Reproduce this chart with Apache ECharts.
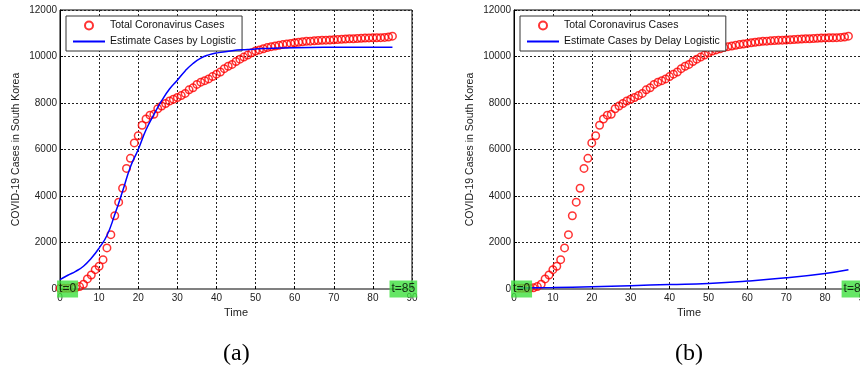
<!DOCTYPE html>
<html>
<head>
<meta charset="utf-8">
<script src="https://cdn.jsdelivr.net/npm/echarts@6/dist/echarts.min.js"></script>
<style>
  html, body { margin: 0; padding: 0; background: #fff; }
  #chart { width: 860px; height: 370px; }
</style>
</head>
<body>
<div id="chart"></div>
<script>
// 累计确诊病例（左图 t=0..85，右图整体右移 1）
const totalCases = [
    28, 29, 30, 31, 51, 104, 204, 433, 602, 833,
    977, 1261, 1766, 2337, 3150, 3736, 4335, 5186, 5621, 6284,
    6593, 7041, 7313, 7478, 7513, 7755, 7869, 7979, 8086, 8162,
    8236, 8320, 8413, 8565, 8652, 8799, 8897, 8961, 9037, 9137,
    9241, 9332, 9478, 9583, 9661, 9786, 9887, 9976, 10062, 10156,
    10237, 10284, 10331, 10384, 10423, 10450, 10480, 10512, 10537, 10564,
    10591, 10613, 10635, 10653, 10661, 10674, 10683, 10694, 10702, 10708,
    10718, 10728, 10738, 10752, 10761, 10765, 10774, 10780, 10793, 10801,
    10804, 10806, 10810, 10822, 10840, 10874
];
const daysA = totalCases.map((_, i) => i);
const daysB = totalCases.map((_, i) => i + 1);

// Logistic 拟合曲线
const logisticT = [0, 2, 4, 6, 8, 10, 12, 14, 16, 18, 20, 22, 24, 26, 28, 30, 32, 34, 36, 38, 40, 44, 48, 52, 60, 70, 85];
const logisticV = [400, 590, 760, 980, 1320, 1760, 2300, 3200, 4200, 5250, 6000, 6850, 7500, 8100, 8600, 8980, 9380, 9700, 9930, 10070, 10150, 10250, 10300, 10340, 10380, 10395, 10400];

// Delay Logistic 拟合曲线
const delayT = [1, 10, 20, 30, 40, 50, 60, 70, 80, 86];
const delayV = [40, 60, 100, 145, 190, 240, 340, 480, 670, 830];

// 绿色标注
const markerT = [0, 85];
const markerText = ['t=0', 't=85'];

const nameCases = 'Total Coronavirus Cases';
const nameLogistic = 'Estimate Cases by Logistic';
const nameDelay = 'Estimate Cases by Delay Logistic';

const FONT = 'Liberation Sans';
const chart = echarts.init(document.getElementById('chart'));

function xAxisOf(i) {
    return {
        gridIndex: i, type: 'value', min: 0, max: 90, interval: 10,
        name: 'Time', nameLocation: 'middle', nameGap: 18,
        nameTextStyle: { fontFamily: FONT, fontSize: 11, color: '#222' },
        axisLine: { show: true, onZero: false, lineStyle: { color: '#808080', width: 2 } },
        axisTick: { show: true, inside: true, length: 3, lineStyle: { color: '#000' } },
        axisLabel: { fontFamily: FONT, fontSize: 10, color: '#222', margin: 4 },
        splitLine: { show: true, lineStyle: { color: '#222', type: [2, 2], width: 1 } }
    };
}
function yAxisOf(i) {
    return {
        gridIndex: i, type: 'value', min: 0, max: 12000, interval: 2000,
        name: 'COVID-19 Cases in South Korea', nameLocation: 'middle', nameGap: 38,
        nameTextStyle: { fontFamily: FONT, fontSize: 10.5, color: '#222' },
        axisLine: { show: true, lineStyle: { color: '#000', width: 1 } },
        axisTick: { show: true, inside: true, length: 3, lineStyle: { color: '#000' } },
        axisLabel: { fontFamily: FONT, fontSize: 10, color: '#222', margin: 3, formatter: v => String(v) },
        splitLine: { show: true, lineStyle: { color: '#222', type: [2, 2], width: 1 } }
    };
}
function legendOf(left, lineName) {
    return {
        left: left, top: 16, orient: 'vertical',
        data: [nameCases, { name: lineName, itemStyle: { opacity: 0 } }],
        itemWidth: 32, itemHeight: 8, itemGap: 5,
        padding: [4, 6, 4, 6],
        backgroundColor: '#fff', borderColor: '#333', borderWidth: 1, borderRadius: 0,
        textStyle: { fontFamily: FONT, fontSize: 10.5, color: '#111' },
        selectedMode: false
    };
}
function casesSeries(i, days) {
    return {
        name: nameCases, type: 'scatter', xAxisIndex: i, yAxisIndex: i,
        data: days.map((t, k) => [t, totalCases[k]]),
        symbol: 'circle', symbolSize: 7.5, clip: false, z: 3,
        itemStyle: { color: 'rgba(0,0,0,0)', borderColor: '#ff0000', borderWidth: 1.5 }
    };
}
function lineSeries(i, name, ts, vs) {
    return {
        name: name, type: 'line', xAxisIndex: i, yAxisIndex: i,
        data: ts.map((t, k) => [t, vs[k]]),
        smooth: true, symbol: 'none', showSymbol: false, z: 4,
        lineStyle: { color: '#0000ff', width: 1.5 },
        itemStyle: { color: '#0000ff' }
    };
}
function markerSeries(i) {
    return {
        type: 'scatter', xAxisIndex: i, yAxisIndex: i, silent: true, clip: false,
        symbol: 'rect', symbolSize: 0.1, z: 10,
        data: markerT.map((t, k) => [t, 0, markerText[k]]),
        label: {
            show: true, position: 'right', distance: -3,
            formatter: p => p.value[2],
            fontFamily: FONT, fontSize: 12, color: '#000',
            backgroundColor: '#3ee03e', padding: [3, 2, 2, 2]
        }
    };
}

chart.setOption({
    animation: false,
    backgroundColor: '#fff',
    grid: [
        { left: 60, top: 10, width: 352, height: 279, show: true, borderColor: '#000', borderWidth: 1,
          backgroundColor: '#fff', outerBoundsMode: 'none', containLabel: false },
        { left: 514, top: 10, width: 350, height: 279, show: true, borderColor: '#000', borderWidth: 1,
          backgroundColor: '#fff', outerBoundsMode: 'none', containLabel: false }
    ],
    xAxis: [xAxisOf(0), xAxisOf(1)],
    yAxis: [yAxisOf(0), yAxisOf(1)],
    legend: [legendOf(66, nameLogistic), legendOf(520, nameDelay)],
    graphic: [
        { type: 'text', left: 223, top: 342, style: { text: '(a)', font: '24px "Liberation Serif"', fill: '#000' } },
        { type: 'text', left: 675, top: 342, style: { text: '(b)', font: '24px "Liberation Serif"', fill: '#000' } }
    ],
    series: [
        casesSeries(0, daysA),
        lineSeries(0, nameLogistic, logisticT, logisticV),
        markerSeries(0),
        casesSeries(1, daysB),
        lineSeries(1, nameDelay, delayT, delayV),
        markerSeries(1)
    ]
});
</script>
</body>
</html>
